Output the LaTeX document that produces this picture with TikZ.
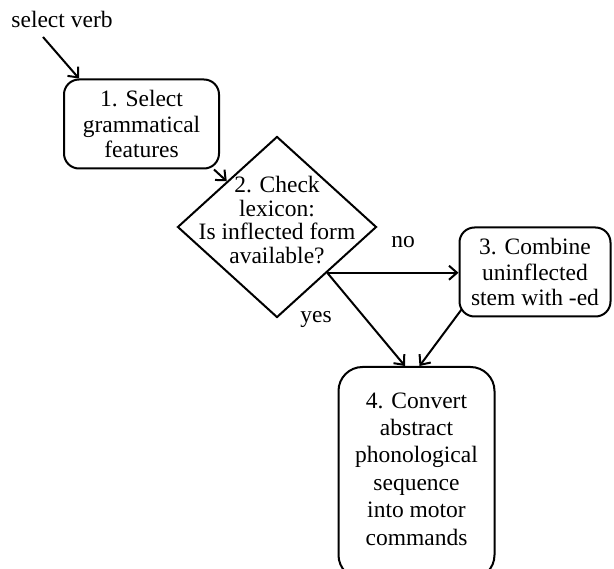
\documentclass[tikz,border=0pt]{standalone}
\usepackage{fontspec}
\setmainfont{Liberation Serif}
\usetikzlibrary{shapes.geometric,arrows.meta,calc}
\begin{document}
\begin{tikzpicture}[x=1pt,y=-1pt,
  every node/.style={font=\fontsize{23.5}{25.5}\selectfont, align=center, inner sep=0pt, text=black},
  box/.style={draw, line width=2pt, rounded corners=15pt},
  arr/.style={line width=2pt, -{Straight Barb[length=8pt,width=14pt,line width=2pt]}},
  lbl/.style={font=\fontsize{23.5}{25.5}\selectfont}
]
\useasboundingbox (0,0) rectangle (614,569);
\clip (0,0) rectangle (614,569);

\node (sv) at (62,19) {select verb};
\coordinate (a0) at (43,37);

\node[box, minimum width=155pt, minimum height=89pt] (b1) at (141.5,124)
  {1. Select\\grammatical\\features};

\node[draw, diamond, line width=2pt, minimum width=199pt, minimum height=181pt] (d2) at (277,227) {};
\node[font=\fontsize{23.5}{23.5}\selectfont] (d2t) at (277,220) {2. Check\\lexicon:\\Is inflected form\\available?};

\node[box, minimum width=151pt, minimum height=89pt] (b3) at (535,272)
  {3. Combine\\uninflected\\stem with -ed};

\node[box, rounded corners=24pt, minimum width=156pt, minimum height=212pt,
      font=\fontsize{23.5}{27.4}\selectfont] (b4) at (416.5,473)
  {4. Convert\\abstract\\phonological\\sequence\\into motor\\commands\\[-19pt]};

\node[lbl] (no) at (403,242) {no};
\node[lbl] (yes) at (316,320) {yes};

\draw[arr] (a0) -- ([xshift=16pt]b1.north west);
\draw[arr] ([xshift=-6pt]b1.south east) -- (d2.north west);
\draw[arr] (d2.south east) -- (d2.south east -| b3.west);
\draw[arr] (d2.south east) -- ([xshift=-11.5pt]b4.north);
\draw[arr] ([xshift=3pt,yshift=8pt]b3.south west) -- ([xshift=3pt]b4.north);
\end{tikzpicture}
\end{document}
